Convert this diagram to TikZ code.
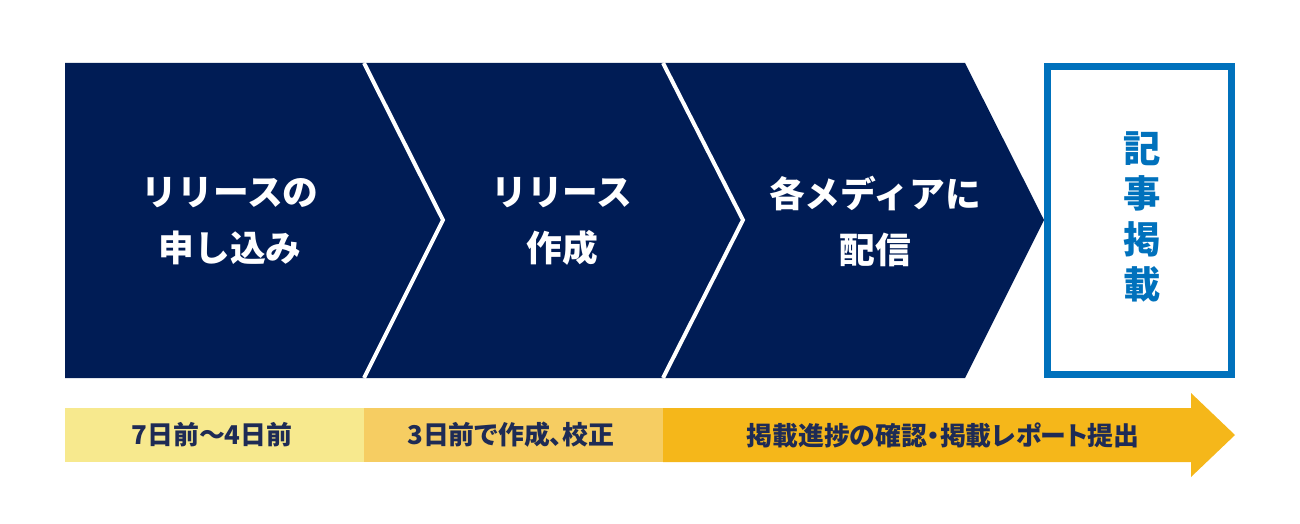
\documentclass[tikz,border=0pt]{standalone}
\usepackage{fontspec}
\newfontfamily\jp{Noto Sans CJK JP}
\newfontfamily\jpp{Noto Sans CJK JP}[RawFeature=+palt]
\usepackage{tikz}

\definecolor{navy}{HTML}{001C55}
\definecolor{kblue}{HTML}{0071BC}
\definecolor{band1}{HTML}{F7E98E}
\definecolor{band2}{HTML}{F6CD62}
\definecolor{band3}{HTML}{F5B71A}
\definecolor{ink}{HTML}{1E2B55}

\tikzset{
	steptext/.style={text=white, align=center, font=\jp\bfseries\fontsize{26.8}{42}\selectfont},
	bartext/.style={text=ink, font=\jpp\bfseries\fontsize{19.4}{22}\selectfont},
	kiji/.style={text=kblue, align=center, font=\jp\bfseries\fontsize{28}{34.2}\selectfont}
}

\begin{document}
\begin{tikzpicture}[x=0.75pt,y=-0.75pt]
		\useasboundingbox (0,0) rectangle (1300,524);
		\fill[navy] (65,63)--(965,63)--(1044,220)--(965,378)--(65,378)--cycle;
		%Skillelinjer
		\draw[white, line width=3pt] (364,63)--(443,220)--(364,378);
		\draw[white, line width=3pt] (663,63)--(743,220)--(663,378);
		\draw[kblue, line width=5.25pt] (1047.5,66.5) rectangle (1231.5,374.5);
		\node[steptext] (s1) at (230,221) {リリースの\\申し込み};
		\node[steptext] (s2) at (562,221) {リリース\\作成};
		\node[steptext] (s3) at (875,221) {各メディアに\\配信};
		\node[kiji] (k) at (1142,217) {記\\事\\掲\\載};
		%Tidslinje
		\fill[band1] (65,408) rectangle (364,462);
		\fill[band2] (364,408) rectangle (663,462);
		\fill[band3] (663,408)--(1191,408)--(1191,393)--(1235,435)--(1191,477)--(1191,462)--(663,462)--cycle;
		\node[bartext] (b1) at (212,435) {7日前〜4日前};
		\node[bartext] (b2) at (511,435) {3日前で作成、校正};
		\node[bartext] (b3) at (943,435) {掲載進捗の確認・掲載レポート提出};
	\end{tikzpicture}
\end{document}
